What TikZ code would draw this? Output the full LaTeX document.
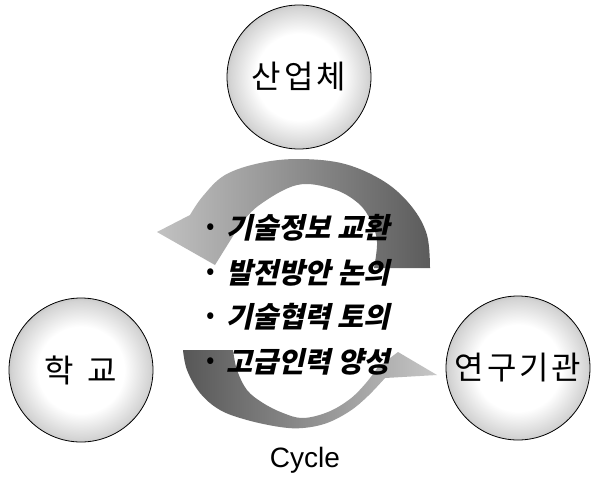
\documentclass[tikz,border=0pt]{standalone}
\usepackage{fontspec}
\setmainfont{Liberation Sans}
\newfontfamily\kr[LetterSpace=9]{Noto Sans CJK KR}
\newfontfamily\krdot{Noto Sans CJK KR}
\newfontfamily\krbi[FakeSlant=0.22]{Noto Sans CJK KR}
\pgfdeclareradialshading{ballshade}{\pgfpoint{0bp}{0bp}}{color(0bp)=(white); color(15bp)=(white); color(24bp)=(black!17); color(32bp)=(black!48); color(50bp)=(black!48)}
\begin{document}
\begin{tikzpicture}[x=1pt,y=-1pt,
  ball/.style={circle, draw=black, line width=0.8pt, shade, shading=ballshade, minimum size=144pt, inner sep=0pt, font=\kr\fontsize{32}{32}\selectfont},
  item/.style={anchor=west, inner sep=0pt, font=\krbi\bfseries\fontsize{28.5}{28.5}\selectfont},
  bul/.style={font=\krdot\fontsize{25}{25}\selectfont, inner sep=0pt}]
\useasboundingbox (0,0) rectangle (591,479);
\fill[white] (0,0) rectangle (591,479);
% circles
\node[ball] (ind) at (299,77) {산업체};
\node[ball] (sch) at (81,370) {학\hspace{14pt}교};
\node[ball] (res) at (518,368) {연구기관};
% upper arrow
\shade[left color=black!24, right color=black!64]
  (430,268) -- plot[smooth, tension=0.6] coordinates {(430,268) (427,235) (412,207) (385,182) (345,164) (300,159) (260,163) (225,175) (203,196) (190,215)}
  -- (157,232) -- (215,265) -- (238,228)
  -- plot[smooth, tension=0.6] coordinates {(238,228) (258,206) (297,185) (333,189) (358,203) (371,221) (377,242) (374,268)}
  -- cycle;
% lower arrow
\shade[left color=black!66, right color=black!22]
  (183,350) -- (233,350)
  -- plot[smooth, tension=0.6] coordinates {(233,350) (237,370) (247,390) (263,403) (283,413) (303,418) (328,412) (350,399) (366,383) (378,367)}
  -- (398,352) -- (437,375) -- (385,378)
  -- plot[smooth, tension=0.6] coordinates {(385,378) (368,396) (350,411) (327,423) (303,428) (280,427) (247,420) (220,410) (200,393) (187,370) (183,350)}
  -- cycle;
% texts
\node[bul] (b1) at (211,229) {•};
\node[item] (t1) at (226,228) {기술정보 교환};
\node[bul] (b2) at (211,274) {•};
\node[item] (t2) at (226,273) {발전방안 논의};
\node[bul] (b3) at (211,318) {•};
\node[item] (t3) at (226,317) {기술협력 토의};
\node[bul] (b4) at (211,363) {•};
\node[item] (t4) at (226,362) {고급인력 양성};
\node[font=\fontsize{28}{28}\selectfont, inner sep=0pt] (cyc) at (305,460) {Cycle};
\end{tikzpicture}
\end{document}
